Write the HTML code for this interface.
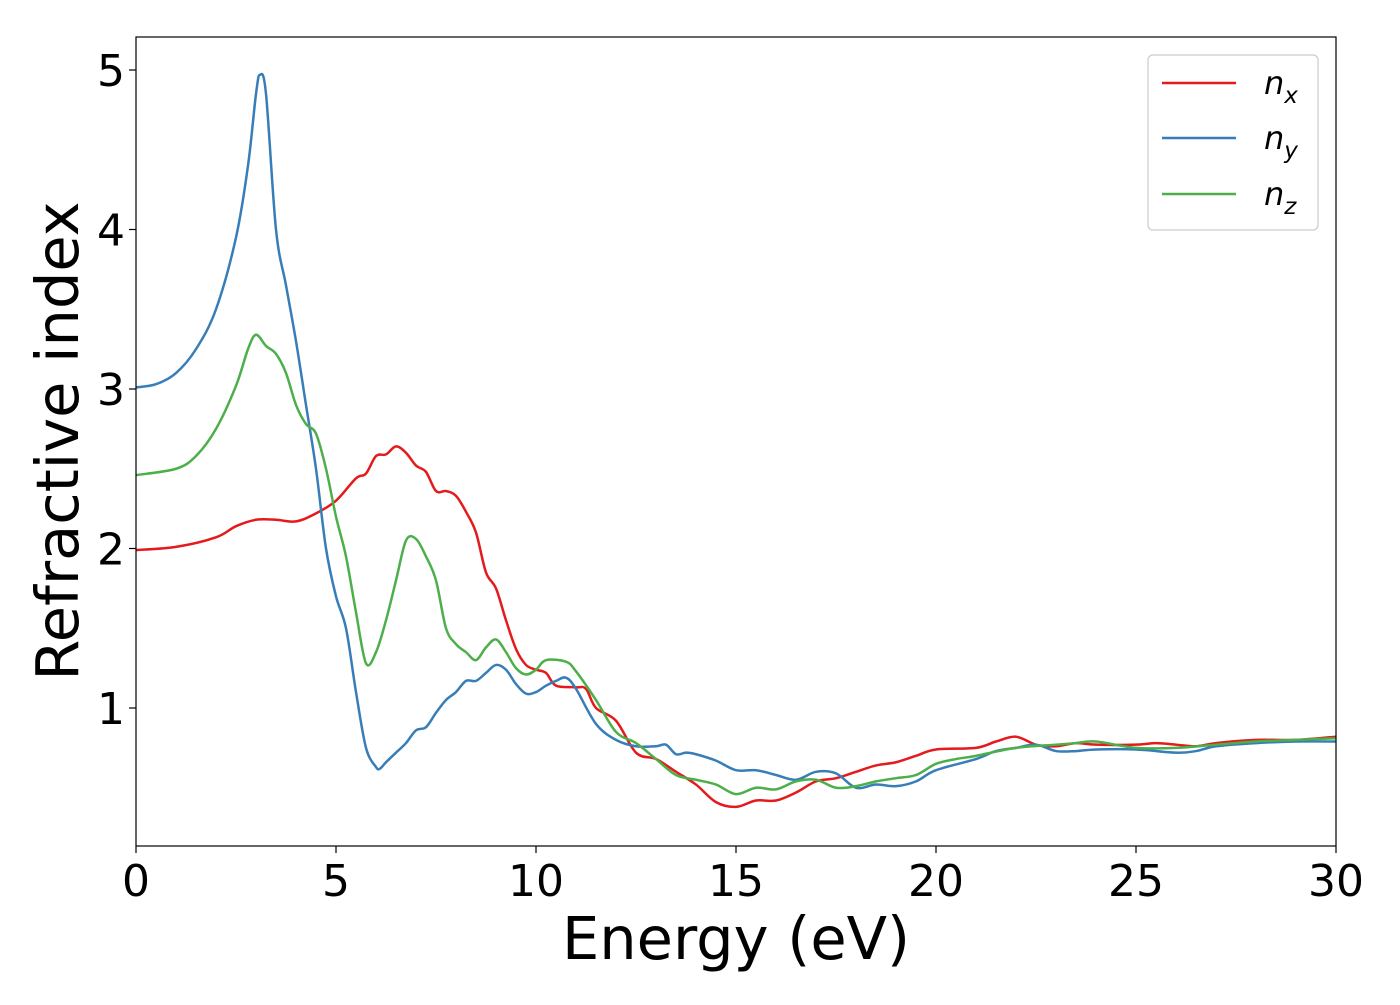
<!DOCTYPE html>
<html><head><meta charset="utf-8"><style>
body{margin:0;background:#fff}
svg text{font-family:"DejaVu Sans","Liberation Sans",sans-serif}
</style></head><body>
<svg id="c" width="1400" height="1000" xmlns="http://www.w3.org/2000/svg"></svg>
<script>
const xTicks=[0,5,10,15,20,25,30];
const yTicks=[1,2,3,4,5];
const nyE=[0,0.5,1,1.5,2,2.5,2.8,3.0,3.1,3.25,3.5,3.75,4,4.25,4.5,4.75,5,5.25,5.5,5.75,6,6.1,6.25,6.5,6.75,7,7.25,7.5,7.75,8,8.25,8.5,8.75,9,9.25,9.5,9.75,10,10.25,10.5,10.75,11,11.5,12,12.5,13,13.25,13.5,13.75,14,14.5,15,15.5,16,16.5,17,17.5,18,18.5,19,19.5,20,21,21.5,22,22.5,23,23.5,24,25,26,26.5,27,28,29,30];
const nyV=[3.01,3.03,3.1,3.25,3.5,3.95,4.4,4.85,4.97,4.85,4.0,3.65,3.3,2.9,2.5,2.0,1.7,1.5,1.1,0.75,0.63,0.62,0.66,0.72,0.78,0.86,0.88,0.97,1.05,1.1,1.17,1.17,1.22,1.27,1.24,1.15,1.09,1.1,1.14,1.17,1.19,1.12,0.9,0.8,0.76,0.76,0.77,0.71,0.72,0.71,0.67,0.61,0.61,0.58,0.55,0.6,0.59,0.5,0.52,0.51,0.54,0.61,0.68,0.73,0.75,0.77,0.73,0.73,0.74,0.74,0.72,0.73,0.76,0.78,0.79,0.79];
const nxE=[0,1,2,2.5,3,3.5,4,4.5,5,5.5,5.75,6,6.25,6.5,6.75,7,7.25,7.5,7.75,8,8.25,8.5,8.75,9,9.25,9.5,9.75,10,10.25,10.5,11,11.25,11.5,12,12.5,13,13.5,14,14.5,15,15.5,16,16.5,17,17.5,18,18.5,19,19.5,20,21,21.5,22,22.5,23,23.5,24,25,25.5,26,26.5,27,28,29,30];
const nxV=[1.99,2.01,2.07,2.14,2.18,2.18,2.17,2.22,2.3,2.44,2.47,2.58,2.59,2.64,2.6,2.52,2.48,2.36,2.36,2.33,2.23,2.1,1.85,1.75,1.55,1.37,1.27,1.24,1.22,1.14,1.13,1.12,1.0,0.92,0.72,0.68,0.6,0.52,0.41,0.38,0.42,0.42,0.47,0.54,0.56,0.6,0.64,0.66,0.7,0.74,0.75,0.79,0.82,0.77,0.76,0.78,0.77,0.77,0.78,0.77,0.76,0.78,0.8,0.8,0.82];
const nzE=[0,1,1.5,2,2.5,2.8,3,3.25,3.5,3.75,4,4.25,4.5,4.75,5,5.25,5.5,5.75,6,6.25,6.5,6.75,7,7.25,7.5,7.75,8,8.25,8.5,8.75,9,9.25,9.5,9.75,10,10.25,10.75,11,11.5,12,12.5,13,13.5,14,14.5,15,15.5,16,16.5,17,17.5,18,18.5,19,19.5,20,20.5,21,22,23,23.5,24,25,26,27,28,29,30];
const nzV=[2.46,2.5,2.58,2.75,3.02,3.25,3.34,3.27,3.22,3.1,2.9,2.78,2.72,2.5,2.2,1.95,1.6,1.28,1.35,1.55,1.8,2.05,2.06,1.95,1.8,1.5,1.4,1.35,1.3,1.38,1.43,1.35,1.25,1.21,1.24,1.3,1.29,1.23,1.05,0.85,0.78,0.68,0.58,0.55,0.52,0.46,0.5,0.49,0.54,0.55,0.5,0.51,0.54,0.56,0.58,0.65,0.68,0.7,0.75,0.77,0.78,0.79,0.75,0.75,0.77,0.79,0.8,0.81];
const L=136,R=1336,T=37,B=846;
const X=e=>L+(e-0)/30*(R-L);
const Y=v=>708-(v-1)*159.5;
const svg=document.getElementById('c');const NS='http://www.w3.org/2000/svg';
function mk(t,a,p){const el=document.createElementNS(NS,t);for(const k in a)el.setAttribute(k,a[k]);(p||svg).appendChild(el);return el;}
const cp=mk('clipPath',{id:'clip'});mk('rect',{x:L,y:T,width:R-L,height:B-T},cp);
function path(E,V){const p=E.map((e,i)=>[X(e),Y(V[i])]);let d='M'+p[0][0]+','+p[0][1];
for(let i=0;i<p.length-1;i++){const p0=p[Math.max(i-1,0)],p1=p[i],p2=p[i+1],p3=p[Math.min(i+2,p.length-1)];
d+=` C${p1[0]+(p2[0]-p0[0])/6},${p1[1]+(p2[1]-p0[1])/6} ${p2[0]-(p3[0]-p1[0])/6},${p2[1]-(p3[1]-p1[1])/6} ${p2[0]},${p2[1]}`;}return d;}
const series=[[nxE,nxV,'#e41a1c','series-nx'],[nyE,nyV,'#377eb8','series-ny'],[nzE,nzV,'#4daf4a','series-nz']];
series.forEach(s=>{const el=mk('path',{d:path(s[0],s[1]),fill:'none',stroke:s[2],'stroke-width':2.5,'clip-path':'url(#clip)'});

});
const fr=mk('rect',{x:L,y:T,width:R-L,height:B-T,fill:'none',stroke:'#000','stroke-width':1.2});


xTicks.forEach(t=>{mk('line',{x1:X(t),x2:X(t),y1:B,y2:B+7,stroke:'#000','stroke-width':1.2});
const tx=mk('text',{x:X(t),y:B+50,'text-anchor':'middle','font-size':44});tx.textContent=t;

});
yTicks.forEach(t=>{mk('line',{x1:L-7,x2:L,y1:Y(t),y2:Y(t),stroke:'#000','stroke-width':1.2});
const tx=mk('text',{x:L-11,y:Y(t)+16,'text-anchor':'end','font-size':44});tx.textContent=t;

});
const xl=mk('text',{x:736,y:959,'text-anchor':'middle','font-size':59});xl.textContent='Energy (eV)';


const yl=mk('text',{x:0,y:0,'text-anchor':'middle','font-size':59,transform:'translate(78,441) rotate(-90)'});yl.textContent='Refractive index';


const lg=mk('g',{});


mk('rect',{x:1148,y:55,width:170,height:175,rx:5,fill:'#fff',stroke:'#ccc','stroke-width':1.2},lg);
[['x','#e41a1c',83],['y','#377eb8',138],['z','#4daf4a',194]].forEach(l=>{
mk('line',{x1:1162,x2:1236,y1:l[2],y2:l[2],stroke:l[1],'stroke-width':2.5},lg);
const t=mk('text',{x:1264,y:l[2]+11,'font-size':32,'font-style':'italic'},lg);
t.innerHTML='n<tspan font-size="23" dy="9">'+l[0]+'</tspan>';

});
</script>
</body></html>
